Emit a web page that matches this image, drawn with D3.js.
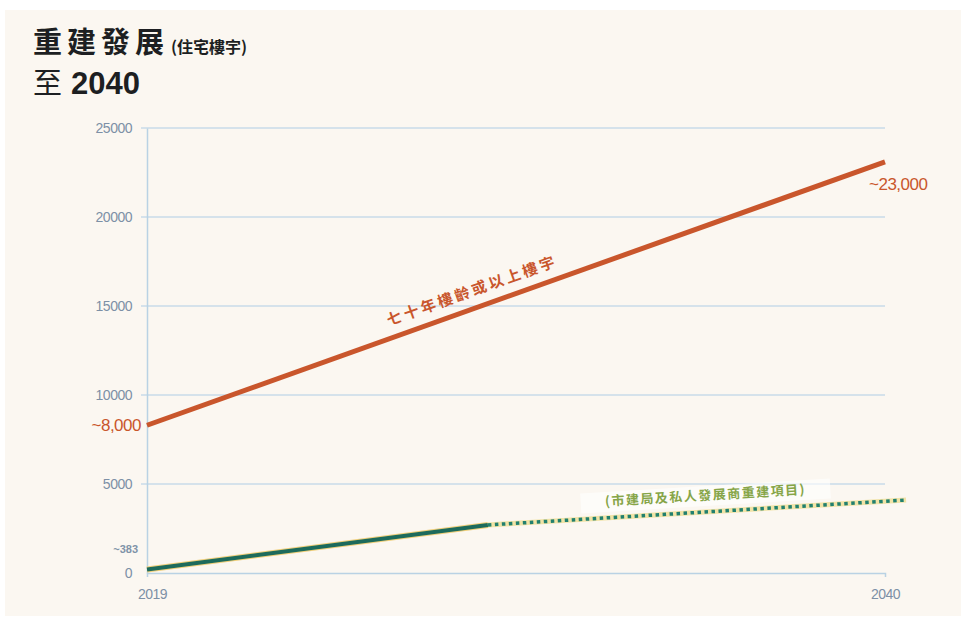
<!DOCTYPE html>
<html>
<head>
<meta charset="utf-8">
<script src="https://cdn.jsdelivr.net/npm/d3@7"></script>
<style>
  body { margin: 0; background: #ffffff; }
  svg { display: block; font-family: "Noto Sans CJK TC", "Liberation Sans", sans-serif; }
</style>
</head>
<body>
<svg id="chart" width="968" height="620"></svg>
<script>
// data
const yTicks = [0, 5000, 10000, 15000, 20000, 25000];
const xTicks = [2019, 2040];

const redYears = [2019, 2040];
const redValues = [8300, 23100];

const greenYears = [2019, 2028.7];
const greenValues = [200, 2700];

const projYears = [2028.7, 2040.6];
const projValues = [2700, 4100];

const redStartLabel = "~8,000";
const redEndLabel = "~23,000";
const greenStartLabel = "~383";
const redSeriesLabel = "七十年樓齡或以上樓宇";
const greenSeriesLabel = "(市建局及私人發展商重建項目)";

const svg = d3.select("#chart");
const margin = { top: 128, right: 83, bottom: 47, left: 147 };
const width = +svg.attr("width") - margin.left - margin.right;
const height = +svg.attr("height") - margin.top - margin.bottom;

// cream panel
svg.append("rect")
    .attr("x", 5).attr("y", 10)
    .attr("width", 956).attr("height", 606)
    .attr("fill", "#fbf7f1");

// title
const title = svg.append("text").attr("x", 33).attr("y", 53)
    .attr("fill", "#1d1f22").attr("font-weight", "bold");
title.append("tspan").attr("font-size", 29).attr("letter-spacing", 5).text("重建發展");
title.append("tspan").attr("font-size", 16).attr("dx", 2).text("(住宅樓宇)");

const title2 = svg.append("text").attr("x", 33).attr("y", 94)
    .attr("fill", "#1d1f22");
title2.append("tspan").attr("font-size", 29).attr("font-weight", "normal").text("至");
title2.append("tspan").attr("font-size", 31).attr("font-weight", "bold").attr("dx", 9)
    .attr("font-family", "Liberation Sans, sans-serif").text("2040");

const chartArea = svg.append("g").attr("transform", `translate(${margin.left},${margin.top})`);

const xScale = d3.scaleLinear()
    .domain([2019, 2040])
    .range([0, width]);

const yScale = d3.scaleLinear()
    .domain([0, 25000])
    .range([height, 0]);

// gridlines
chartArea.append("g")
    .selectAll("line")
    .data(yTicks.filter(d => d > 0))
    .enter().append("line")
    .attr("x1", -6).attr("x2", width)
    .attr("y1", d => yScale(d)).attr("y2", d => yScale(d))
    .attr("stroke", "#c9dbe8").attr("stroke-width", 1.5);

// y axis
const yAxis = d3.axisLeft(yScale).tickValues(yTicks).tickSize(0).tickPadding(15)
    .tickFormat(d => d);
const yG = chartArea.append("g").call(yAxis);
yG.select(".domain").attr("stroke", "#b9d2e4").attr("stroke-width", 1.5);
yG.selectAll("text")
    .attr("fill", "#7d90a6")
    .attr("font-size", 14)
    .attr("letter-spacing", -0.5)
    .attr("font-family", "Liberation Sans, sans-serif");

// x axis
const xAxis = d3.axisBottom(xScale).tickValues(xTicks).tickSize(4).tickPadding(12)
    .tickFormat(d => d);
const xG = chartArea.append("g").attr("transform", `translate(0,${height})`).call(xAxis);
xG.select(".domain").attr("stroke", "#b9d2e4").attr("stroke-width", 1.5);
xG.selectAll(".tick line").attr("stroke", "#b9d2e4");
xG.selectAll("text")
    .attr("fill", "#7d90a6")
    .attr("font-size", 14)
    .attr("letter-spacing", -0.5)
    .attr("font-family", "Liberation Sans, sans-serif");
xG.selectAll(".tick").filter(d => d === 2019).select("text").attr("dx", 5);

const line = d3.line()
    .x(d => xScale(d[0]))
    .y(d => yScale(d[1]));

// red series
const redData = redYears.map((y, i) => [y, redValues[i]]);
chartArea.append("path")
    .datum(redData)
    .attr("d", line)
    .attr("fill", "none")
    .attr("stroke", "#c9562c")
    .attr("stroke-width", 5);

// green projected (dotted)
const projData = projYears.map((y, i) => [y, projValues[i]]);
chartArea.append("path")
    .datum(projData)
    .attr("d", line)
    .attr("fill", "none")
    .attr("stroke", "#f1e3a6")
    .attr("stroke-width", 5);
chartArea.append("path")
    .datum(projData)
    .attr("d", line)
    .attr("fill", "none")
    .attr("stroke", "#21806f")
    .attr("stroke-width", 3.5)
    .attr("stroke-dasharray", "3.5,3.5");

// green solid
const greenData = greenYears.map((y, i) => [y, greenValues[i]]);
chartArea.append("path")
    .datum(greenData)
    .attr("d", line)
    .attr("fill", "none")
    .attr("stroke", "#f0cf7a")
    .attr("stroke-width", 6);
chartArea.append("path")
    .datum(greenData)
    .attr("d", line)
    .attr("fill", "none")
    .attr("stroke", "#1d6b5c")
    .attr("stroke-width", 4);

// end labels
chartArea.append("text")
    .attr("x", xScale(redYears[0]) - 6)
    .attr("y", yScale(redValues[0]) + 6)
    .attr("text-anchor", "end")
    .attr("fill", "#c9562c")
    .attr("font-size", 17)
    .attr("letter-spacing", -0.5)
    .attr("font-family", "Liberation Sans, sans-serif")
    .text(redStartLabel);

chartArea.append("text")
    .attr("x", xScale(redYears[1]) - 16)
    .attr("y", yScale(redValues[1]) + 28)
    .attr("fill", "#c9562c")
    .attr("font-size", 17)
    .attr("letter-spacing", -0.5)
    .attr("font-family", "Liberation Sans, sans-serif")
    .text(redEndLabel);

chartArea.append("text")
    .attr("x", xScale(greenYears[0]) - 9)
    .attr("y", yScale(greenValues[0]) - 16)
    .attr("text-anchor", "end")
    .attr("fill", "#7f93a8")
    .attr("font-size", 11)
    .attr("font-weight", "bold")
    .attr("font-family", "Liberation Sans, sans-serif")
    .text(greenStartLabel);

// series labels along the lines
const redAngle = Math.atan2(yScale(redValues[1]) - yScale(redValues[0]),
    xScale(redYears[1]) - xScale(redYears[0])) * 180 / Math.PI;
const rx = xScale(2028.3), ry = yScale(8300 + (23100 - 8300) * (2028.3 - 2019) / 21) - 13;
chartArea.append("text")
    .attr("transform", `translate(${rx},${ry}) rotate(${redAngle})`)
    .attr("text-anchor", "middle")
    .attr("fill", "#c9562c")
    .attr("font-size", 15)
    .attr("font-weight", "bold")
    .attr("letter-spacing", 3)
    .text(redSeriesLabel);

const projAngle = Math.atan2(yScale(projValues[1]) - yScale(projValues[0]),
    xScale(projYears[1]) - xScale(projYears[0])) * 180 / Math.PI;
const gx = xScale(2034.9), gy = yScale(2700 + (4100 - 2700) * (2034.9 - 2028.7) / 11.9) - 12;
const gl = chartArea.append("g").attr("transform", `translate(${gx},${gy}) rotate(${projAngle})`);
gl.append("rect")
    .attr("x", -125).attr("y", -14)
    .attr("width", 250).attr("height", 20)
    .attr("fill", "#ffffff").attr("opacity", 0.6);
gl.append("text")
    .attr("text-anchor", "middle")
    .attr("fill", "#86a548")
    .attr("font-size", 13)
    .attr("font-weight", "bold")
    .attr("letter-spacing", 1.5)
    .text(greenSeriesLabel);
</script>
</body>
</html>
